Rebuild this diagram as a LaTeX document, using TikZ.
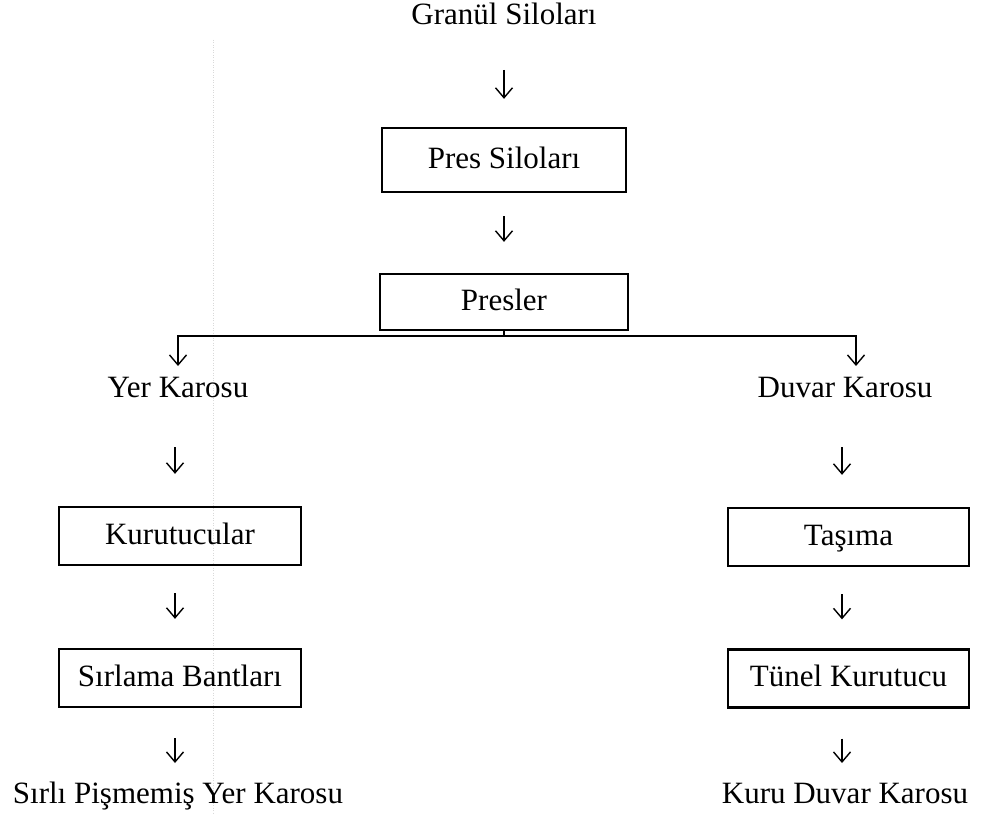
\documentclass[tikz,border=0pt]{standalone}
\usepackage{fontspec}
\setmainfont{Liberation Serif}
\usetikzlibrary{arrows.meta}
\begin{document}
\begin{tikzpicture}[x=1pt,y=-1pt,
  every node/.style={font=\fontsize{31}{37}\selectfont},
  lbl/.style={inner sep=0pt, anchor=base},
  boxnode/.style={draw, line width=2.3pt, inner sep=0pt, minimum height=58pt, text height=22pt, text depth=6pt},
  arr/.style={line width=1.4pt, -{Straight Barb[length=10pt,width=17pt,line width=1.4pt]}},
  branch/.style={line width=2pt, -{Straight Barb[length=10pt,width=17pt,line width=1.4pt]}}
]
\useasboundingbox (0,0) rectangle (981,813);
% faint scan fold line
\draw[gray!30, dotted, line width=0.5pt] (213,40) -- (213,813);

% nodes
\node[lbl] (granul) at (504,25) {Granül Siloları};
\node[boxnode, minimum width=244pt, minimum height=64pt] (pres) at (504,160) {Pres Siloları};
\node[boxnode, minimum width=248pt, minimum height=56pt] (presler) at (504,302) {Presler};
\coordinate (split) at (504,336);

\node[lbl] (yer) at (178,397) {Yer Karosu};
\node[boxnode, minimum width=242pt] (kur) at (180,536) {Kurutucular};
\node[boxnode, minimum width=242pt] (sir) at (180,678) {Sırlama Bantları};
\node[lbl] (sirli) at (178,803) {Sırlı Pişmemiş Yer Karosu};

\node[lbl] (duvar) at (845,397) {Duvar Karosu};
\node[boxnode, minimum width=241pt] (tas) at (848.5,537) {Taşıma};
\node[boxnode, minimum width=241pt] (tun) at (848.5,678.5) {Tünel Kurutucu};
\node[lbl] (kuru) at (845,803) {Kuru Duvar Karosu};

% connectors
\draw[arr, shorten <=45pt, shorten >=28pt] (granul.base) -- (pres.north);
\draw[arr, shorten <=23pt, shorten >=31pt] (pres.south) -- (presler.north);
\draw[line width=2pt] (presler.south) -- (split);
\draw[branch] (split) -| ([yshift=31pt]yer.base);
\draw[branch] (split) -| ([xshift=11pt,yshift=31pt]duvar.base);

\draw[arr, shorten <=50pt, shorten >=32pt] ([xshift=-3pt]yer.base) -- ([xshift=-5pt]kur.north);
\draw[arr, shorten <=27pt, shorten >=29pt] ([xshift=-5pt]kur.south) -- ([xshift=-5pt]sir.north);
\draw[arr, shorten <=30pt, shorten >=40pt] ([xshift=-5pt]sir.south) -- ([xshift=-3pt]sirli.base);

\draw[arr, shorten <=50pt, shorten >=32pt] ([xshift=-3pt]duvar.base) -- ([xshift=-6.5pt]tas.north);
\draw[arr, shorten <=27pt, shorten >=29pt] ([xshift=-6.5pt]tas.south) -- ([xshift=-6.5pt]tun.north);
\draw[arr, shorten <=30pt, shorten >=40pt] ([xshift=-6.5pt]tun.south) -- ([xshift=-3pt]kuru.base);
\end{tikzpicture}
\end{document}
